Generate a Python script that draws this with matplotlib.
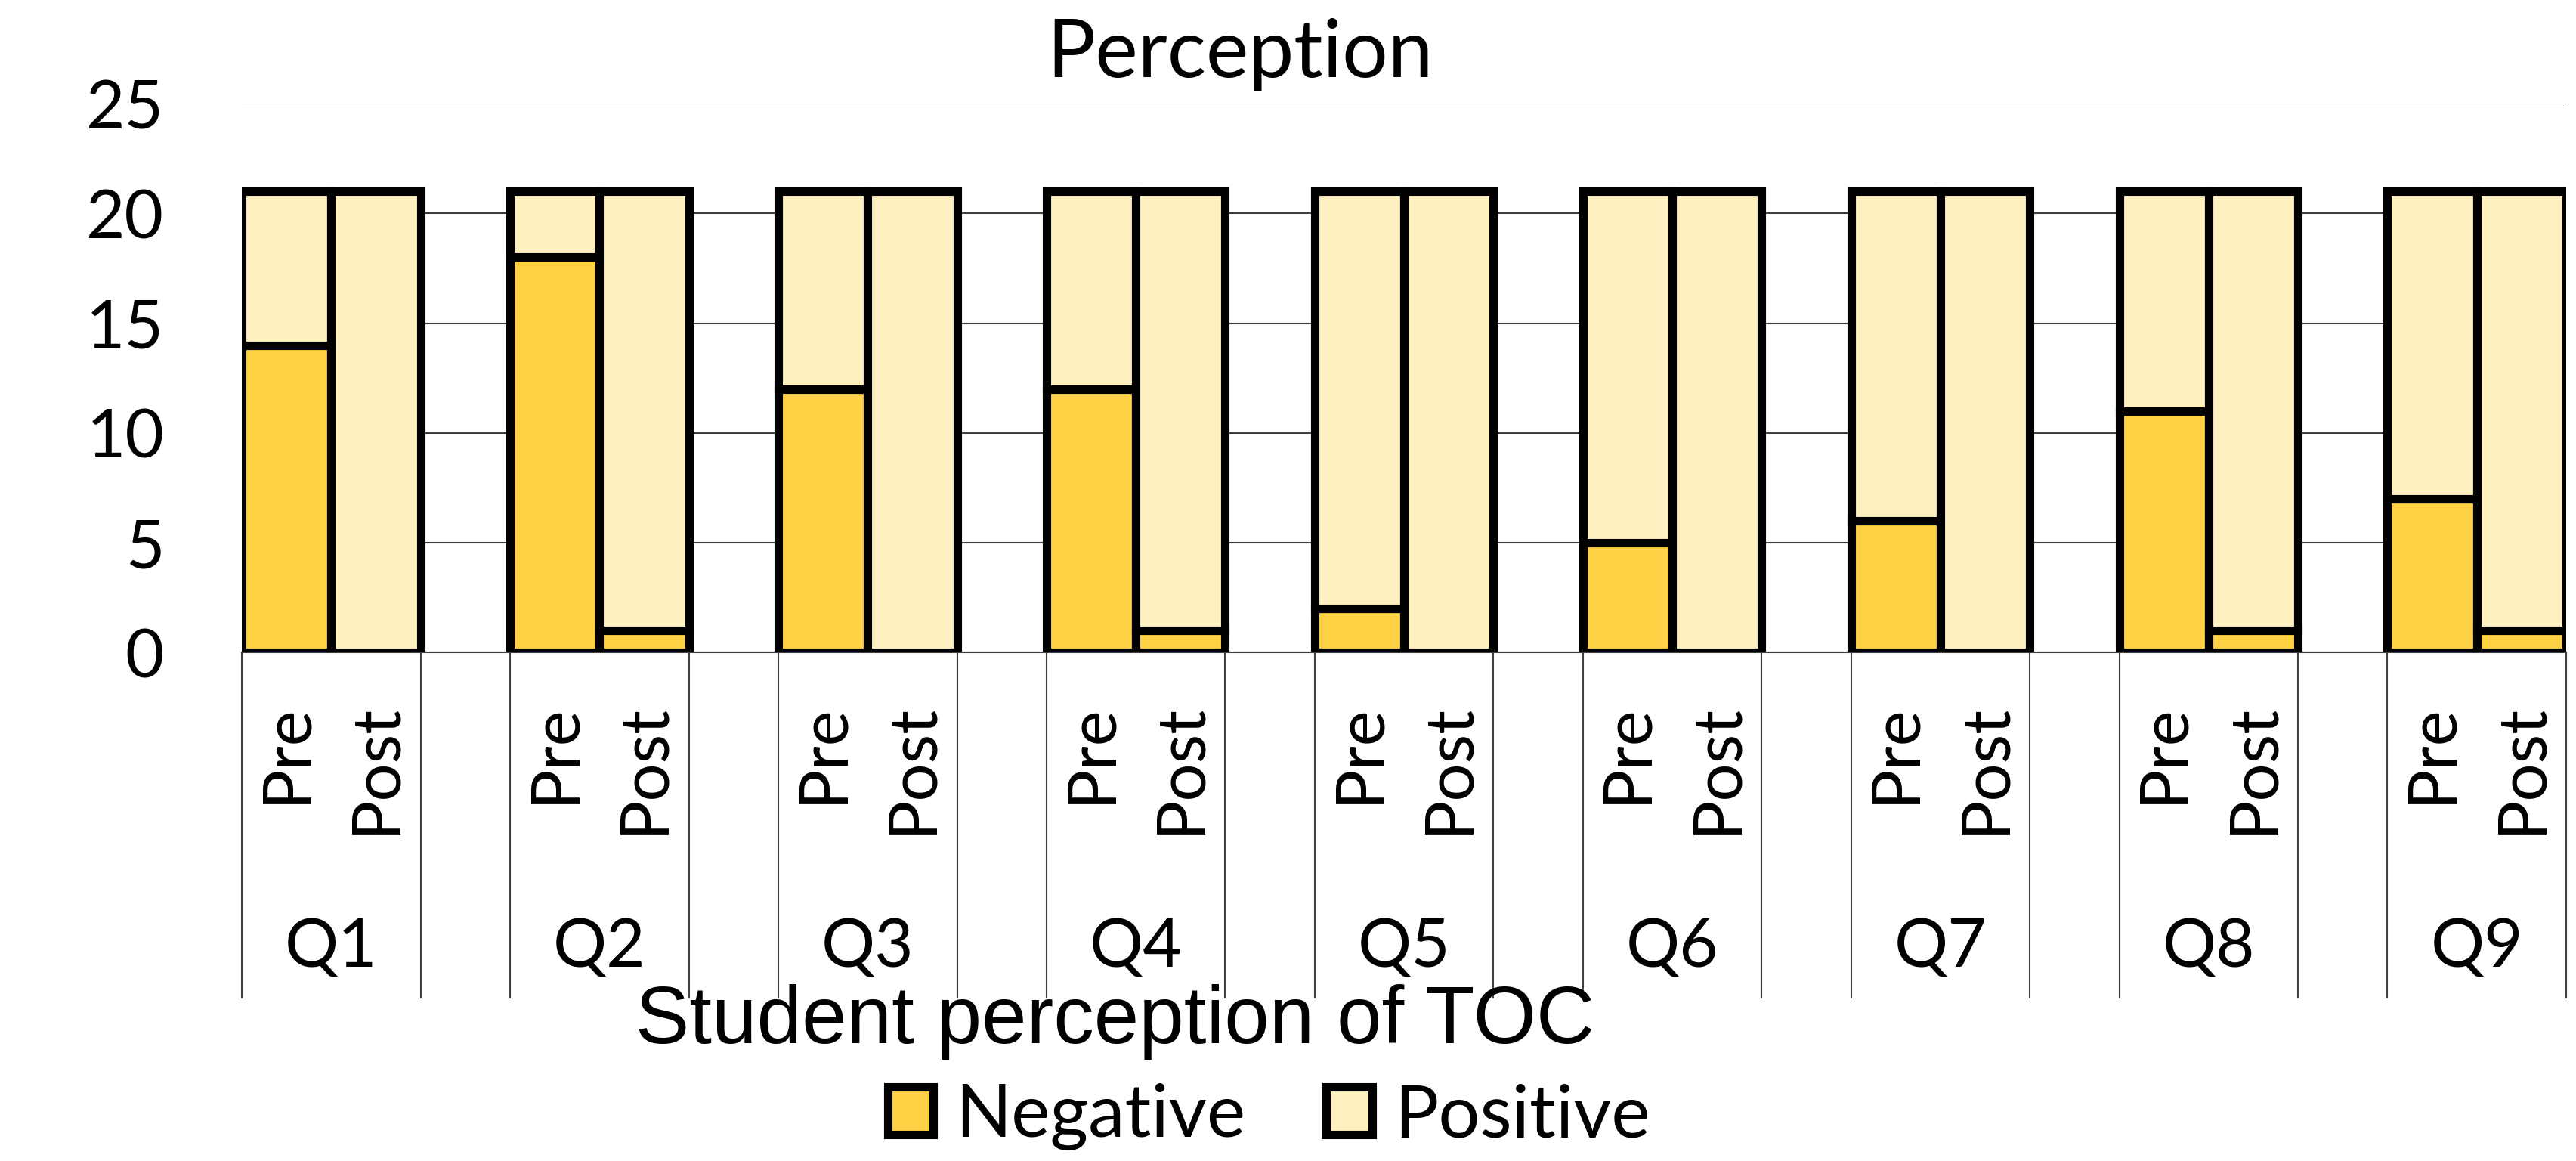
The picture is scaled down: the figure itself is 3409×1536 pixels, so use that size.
import matplotlib.pyplot as plt
import numpy as np

questions = ["Q1", "Q2", "Q3", "Q4", "Q5", "Q6", "Q7", "Q8", "Q9"]
phases = ["Pre", "Post"]
# number of students per answer, pre and post for each question
negative_pre = [14, 18, 12, 12, 2, 5, 6, 11, 7]
negative_post = [0, 1, 0, 1, 0, 0, 0, 1, 1]
positive_pre = [7, 3, 9, 9, 19, 16, 15, 10, 14]
positive_post = [21, 20, 21, 20, 21, 21, 21, 20, 20]

neg_color = "#FFD145"
pos_color = "#FFF0C1"
line_color = "#404040"
calibri_like = ["Lato", "DejaVu Sans"]

fig = plt.figure(figsize=(34.09, 15.36), dpi=100)
ax = fig.add_axes([0.0939, 0.438, 0.9023, 0.4727])

# slots: Pre, Post, blank gap for each question
x_pre = np.arange(len(questions)) * 3
x_post = x_pre + 1
xs = np.concatenate([x_pre, x_post])
neg = np.array(negative_pre + negative_post)
pos = np.array(positive_pre + positive_post)

ax.bar(xs, neg, width=1.0, color=neg_color, edgecolor="black",
       linewidth=8, label="Negative", zorder=3)
ax.bar(xs, pos, bottom=neg, width=1.0, color=pos_color, edgecolor="black",
       linewidth=8, label="Positive", zorder=3)

ax.set_xlim(-0.5, 3 * len(questions) - 1.5)
ax.set_ylim(0, 25)
ax.set_yticks([0, 5, 10, 15, 20, 25])
ax.yaxis.grid(True, color=line_color, linewidth=1.5, zorder=0)
ax.set_axisbelow(True)
for s in ["top", "right", "left"]:
    ax.spines[s].set_visible(False)
ax.spines["bottom"].set_color(line_color)
ax.spines["bottom"].set_linewidth(1.5)
ax.set_xticks([])
ax.tick_params(axis="y", length=0, pad=74, labelsize=64)
for lab in ax.get_yticklabels():
    lab.set_family(calibri_like)

# multi-level category axis
trans = ax.get_xaxis_transform()
for g, q in enumerate(questions):
    left = 3 * g - 0.5
    right = 3 * g + 1.5
    for xv in (left, right):
        ax.plot([xv, xv], [0, -0.6295], transform=trans, color=line_color,
                linewidth=1.5, clip_on=False)
    for k, ph in enumerate(phases):
        ax.text(3 * g + k, -0.092, ph, transform=trans, rotation=90,
                ha="center", va="top", fontsize=64, family=calibri_like)
    ax.text(3 * g + 0.5, -0.5386, q, transform=trans, ha="center",
            va="center", fontsize=64, family=calibri_like)

fig.text(0.4815, 0.953, "Perception", ha="center", va="center",
         fontsize=77, family=calibri_like)
fig.text(0.433, 0.12, "Student perception of TOC", ha="center", va="center",
         fontsize=77, family=["Liberation Sans", "DejaVu Sans"])

fig.legend(loc="center", bbox_to_anchor=(0.4926, 0.038), ncol=2,
           frameon=False, handlelength=0.62, handleheight=0.62,
           handletextpad=0.3, columnspacing=1.1,
           prop={"family": calibri_like, "size": 70})

fig.savefig("out.png", dpi=100)
